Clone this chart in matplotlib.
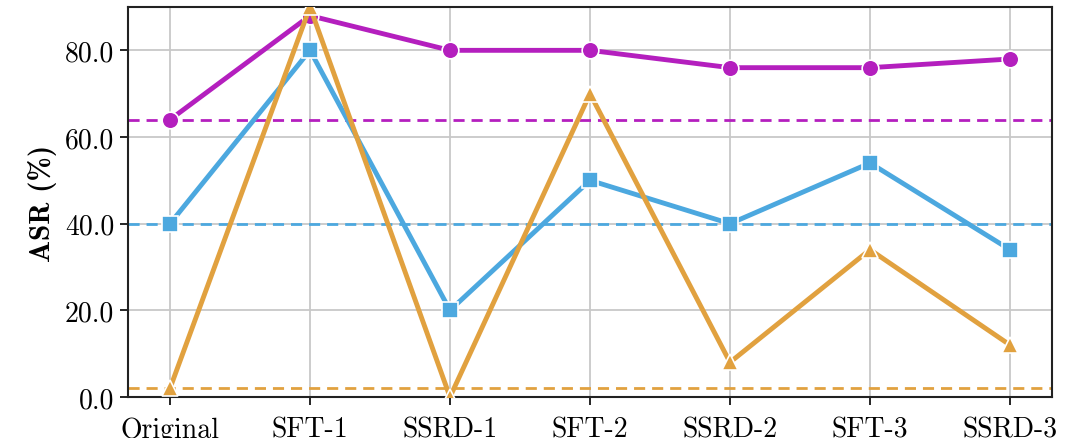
import matplotlib
matplotlib.use("Agg")
import matplotlib.pyplot as plt
from matplotlib.ticker import FormatStrFormatter

categories = ["Original", "SFT-1", "SSRD-1", "SFT-2", "SSRD-2", "SFT-3", "SSRD-3"]
purple_vals = [64, 88, 80, 80, 76, 76, 78]
blue_vals = [40, 80, 20, 50, 40, 54, 34]
orange_vals = [2, 90, 0, 70, 8, 34, 12]
yticks = [0, 20, 40, 60, 80]

plt.rcParams["font.family"] = ["cmr10", "DejaVu Serif"]
plt.rcParams["mathtext.fontset"] = "cm"
plt.rcParams["axes.formatter.use_mathtext"] = True

fig = plt.figure(figsize=(10.77, 4.39), dpi=100)
ax = fig.add_axes([128/1077, 1 - 398/439, (1052-128)/1077, (398-8)/439])

c_purple = "#b41fbe"
c_blue = "#4ca8df"
c_orange = "#e1a13f"
x = list(range(len(categories)))

ax.axhline(purple_vals[0], color=c_purple, ls=(0, (4, 2.5)), lw=2, zorder=2)
ax.axhline(blue_vals[0], color=c_blue, ls=(0, (4, 2.5)), lw=2, zorder=2)
ax.axhline(orange_vals[0], color=c_orange, ls=(0, (4, 2.5)), lw=2, zorder=2)

ax.plot(x, purple_vals, color=c_purple, lw=3.5, marker="o", ms=12, mec="white", mew=1.2, zorder=3)
ax.plot(x, blue_vals, color=c_blue, lw=3.5, marker="s", ms=11.5, mec="white", mew=1.2, zorder=3)
ax.plot(x, orange_vals, color=c_orange, lw=3.5, marker="^", ms=12, mec="white", mew=1.2, zorder=3)

ax.set_xlim(-0.3, 6.3)
ax.set_ylim(0, 90)
ax.set_xticks(x)
ax.set_xticklabels(categories)
ax.set_yticks(yticks)
ax.yaxis.set_major_formatter(FormatStrFormatter("%.1f"))
ax.tick_params(labelsize=20, length=6, width=1.2, direction="out", pad=4)
ax.tick_params(axis="x", pad=8)
ax.grid(True, color="#c8c8c8", lw=1.3, zorder=0)
ax.set_axisbelow(True)
for s in ax.spines.values():
    s.set_linewidth(1.5)
    s.set_color("#222222")
ax.set_ylabel("ASR (%)", fontsize=21, fontfamily=["cmb10", "DejaVu Serif"], labelpad=6)

fig.savefig("out.png", dpi=100)
